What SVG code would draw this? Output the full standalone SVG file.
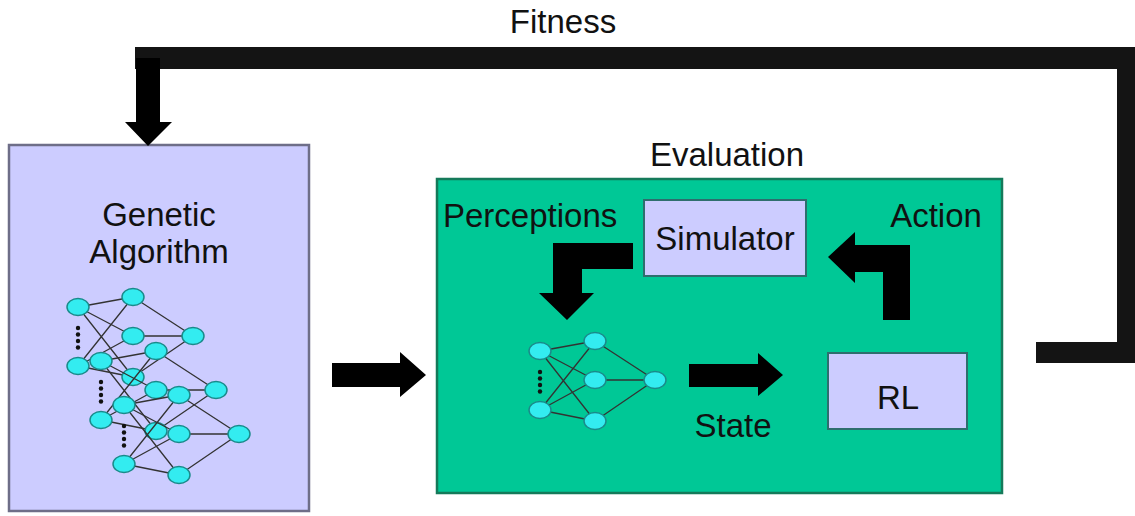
<svg xmlns="http://www.w3.org/2000/svg" xmlns:xlink="http://www.w3.org/1999/xlink" width="1135" height="516" viewBox="0 0 1135 516">
<style>
text{font-family:"Liberation Sans",Arial,sans-serif;font-size:33px;fill:#111}
.mid{text-anchor:middle}
.arrow{fill:#000}
.bar{fill:#141414}
.nl{stroke:#333;stroke-width:1.3;fill:none}
.nn{fill:#33ecf0;stroke:#1a8a8a;stroke-width:1.5}
.dot{fill:#111}
.inner{fill:#ccccff;stroke:#2e6e6e;stroke-width:2}
</style>
<defs>
<g id="net">
<path class="nl" d="M0 0L55 -10M0 0L55 29M0 0L55 70M0 59L55 -10M0 59L55 29M0 59L55 70M55 -10L115 29M55 29L115 29M55 70L115 29"/>
<ellipse class="nn" cx="0" cy="0" rx="11" ry="8.5"/>
<ellipse class="nn" cx="0" cy="59" rx="11" ry="8.5"/>
<ellipse class="nn" cx="55" cy="-10" rx="11" ry="8.5"/>
<ellipse class="nn" cx="55" cy="29" rx="11" ry="8.5"/>
<ellipse class="nn" cx="55" cy="70" rx="11" ry="8.5"/>
<ellipse class="nn" cx="115" cy="29" rx="11" ry="8.5"/>
<circle class="dot" cx="0" cy="21" r="2.2"/>
<circle class="dot" cx="0" cy="27.5" r="2.2"/>
<circle class="dot" cx="0" cy="34" r="2.2"/>
<circle class="dot" cx="0" cy="40.5" r="2.2"/>
</g>
</defs>
<rect width="1135" height="516" fill="#fff"/>

<g id="ga">
<rect x="9" y="145" width="300" height="366" fill="#ccccff" stroke="#6e6e88" stroke-width="2.5"/>
<text class="mid" x="159" y="226">Genetic</text>
<text class="mid" x="159" y="263">Algorithm</text>
<use xlink:href="#net" transform="translate(78,307)"/>
<use xlink:href="#net" transform="translate(101,361)"/>
<use xlink:href="#net" transform="translate(124,405)"/>
</g>

<g id="evaluation">
<text class="mid" x="727" y="166">Evaluation</text>
<rect x="437" y="179" width="565" height="314" fill="#00c896" stroke="#157a5a" stroke-width="2.5"/>
</g>

<g id="simulator">
<rect class="inner" x="644" y="200" width="162" height="76"/>
<text class="mid" x="725" y="250">Simulator</text>
</g>

<g id="rl">
<rect class="inner" x="828" y="353" width="139" height="76"/>
<text class="mid" x="898" y="409">RL</text>
</g>

<g id="policy-net">
<use xlink:href="#net" transform="translate(540,351)"/>
</g>

<g id="connectors">
<rect class="bar" x="135" y="47" width="1000" height="22"/>
<rect class="bar" x="1117" y="47" width="18" height="316"/>
<rect class="bar" x="1036" y="342" width="99" height="21"/>
<polygon class="arrow" points="136,58 160,58 160,122 172,122 148,146 125,122 136,122"/>
<polygon class="arrow" points="332,363 400,363 400,352 426,375 400,397 400,387 332,387"/>
<polygon class="arrow" points="689,364 758,364 758,353 783,375 758,396 758,387 689,387"/>
<polygon class="arrow" points="633,243 633,269 582,269 582,293 594,293 567,320 539,293 553,293 553,243"/>
<polygon class="arrow" points="883,320 910,320 910,245 855,245 855,232 828,257 855,283 855,272 883,272"/>
<text x="443" y="227">Perceptions</text>
<text class="mid" x="936" y="227">Action</text>
<text class="mid" x="733" y="437">State</text>
<text class="mid" x="563" y="33">Fitness</text>
</g>
</svg>
